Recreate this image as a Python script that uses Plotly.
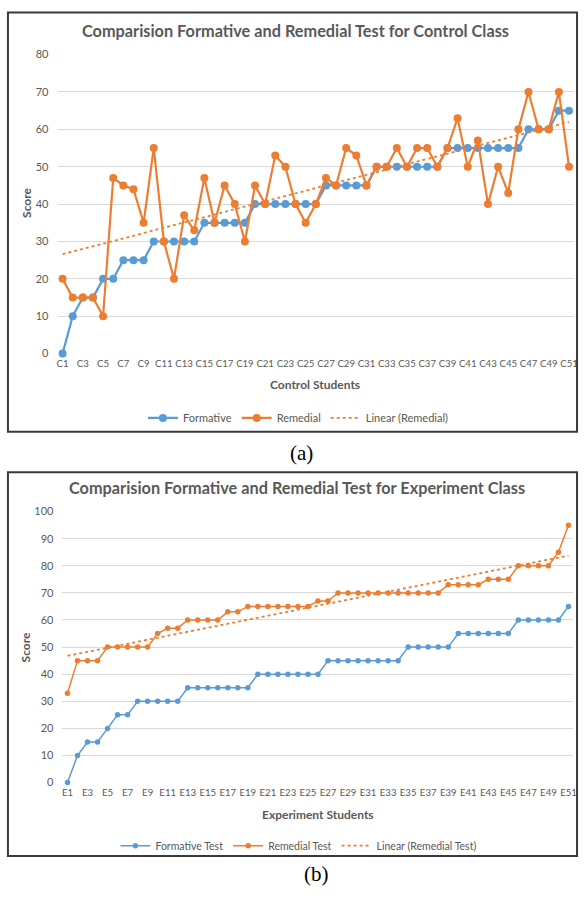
import numpy as np
import plotly.graph_objects as go

W, H = 586, 898

# ---------------- data ----------------
control_students = [f"C{i}" for i in range(1, 52)]
control_formative = [0, 10, 15, 15, 20, 20, 25, 25, 25, 30,
                     30, 30, 30, 30, 35, 35, 35, 35, 35, 40,
                     40, 40, 40, 40, 40, 40, 45, 45, 45, 45,
                     45, 50, 50, 50, 50, 50, 50, 50, 55, 55,
                     55, 55, 55, 55, 55, 55, 60, 60, 60, 65, 65]
control_remedial = [20, 15, 15, 15, 10, 47, 45, 44, 35, 55,
                    30, 20, 37, 33, 47, 35, 45, 40, 30, 45,
                    40, 53, 50, 40, 35, 40, 47, 45, 55, 53,
                    45, 50, 50, 55, 50, 55, 55, 50, 55, 63,
                    50, 57, 40, 50, 43, 60, 70, 60, 60, 70, 50]

experiment_students = [f"E{i}" for i in range(1, 52)]
experiment_formative = [0, 10, 15, 15, 20, 25, 25, 30, 30, 30,
                        30, 30, 35, 35, 35, 35, 35, 35, 35, 40,
                        40, 40, 40, 40, 40, 40, 45, 45, 45, 45,
                        45, 45, 45, 45, 50, 50, 50, 50, 50, 55,
                        55, 55, 55, 55, 55, 60, 60, 60, 60, 60, 65]
experiment_remedial = [33, 45, 45, 45, 50, 50, 50, 50, 50, 55,
                       57, 57, 60, 60, 60, 60, 63, 63, 65, 65,
                       65, 65, 65, 65, 65, 67, 67, 70, 70, 70,
                       70, 70, 70, 70, 70, 70, 70, 70, 73, 73,
                       73, 73, 75, 75, 75, 80, 80, 80, 80, 85, 95]

control_ticks = control_students[::2]
experiment_ticks = experiment_students[::2]

BLUE = "#5B9BD5"
ORANGE = "#ED7D31"
GRAY = "#595959"
GRID = "#D9D9D9"
FONT = "Lato"


def px(x):
    return x / W


def py(y):
    return 1 - y / H


def trend(vals):
    idx = np.arange(len(vals))
    k, b = np.polyfit(idx, vals, 1)
    return k * idx + b


fig = go.Figure()

# ---- chart (a)
fig.add_trace(go.Scatter(x=control_students, y=control_formative, name="Formative",
                         mode="lines+markers", line=dict(color=BLUE, width=2.2),
                         marker=dict(color=BLUE, size=8), xaxis="x", yaxis="y",
                         legend="legend", cliponaxis=False))
fig.add_trace(go.Scatter(x=control_students, y=control_remedial, name="Remedial",
                         mode="lines+markers", line=dict(color=ORANGE, width=2.2),
                         marker=dict(color=ORANGE, size=8), xaxis="x", yaxis="y",
                         legend="legend", cliponaxis=False))
fig.add_trace(go.Scatter(x=control_students, y=trend(control_remedial), name="Linear (Remedial)",
                         mode="lines", line=dict(color=ORANGE, width=1.8, dash="dot"),
                         xaxis="x", yaxis="y", legend="legend"))

# ---- chart (b)
fig.add_trace(go.Scatter(x=experiment_students, y=experiment_formative, name="Formative Test",
                         mode="lines+markers", line=dict(color=BLUE, width=1.5),
                         marker=dict(color=BLUE, size=5.5), xaxis="x2", yaxis="y2",
                         legend="legend2", cliponaxis=False))
fig.add_trace(go.Scatter(x=experiment_students, y=experiment_remedial, name="Remedial Test",
                         mode="lines+markers", line=dict(color=ORANGE, width=1.5),
                         marker=dict(color=ORANGE, size=5.5), xaxis="x2", yaxis="y2",
                         legend="legend2", cliponaxis=False))
fig.add_trace(go.Scatter(x=experiment_students, y=trend(experiment_remedial),
                         name="Linear (Remedial Test)",
                         mode="lines", line=dict(color=ORANGE, width=1.8, dash="dot"),
                         xaxis="x2", yaxis="y2", legend="legend2"))

tickfont = dict(family=FONT, size=11, color=GRAY)
xtickfont = dict(family=FONT, size=9.6, color=GRAY)

fig.update_layout(
    width=W, height=H, margin=dict(l=0, r=0, t=0, b=0),
    paper_bgcolor="white", plot_bgcolor="white",
    font=dict(family=FONT, color=GRAY),
    xaxis=dict(domain=[px(57), px(578)], anchor="y", type="category",
               range=[-0.5, 50.5], tickmode="array", tickvals=control_ticks,
               ticktext=control_ticks, tickangle=0, showgrid=False, zeroline=False,
               showline=False, ticks="", tickfont=xtickfont, ticklabelstandoff=3),
    yaxis=dict(domain=[py(351.7), py(48.3)], anchor="x", range=[0, 80], dtick=10,
               showgrid=True, gridcolor=GRID, gridwidth=1, zeroline=False,
               showline=False, ticks="", tickfont=tickfont, ticklabelstandoff=8),
    xaxis2=dict(domain=[px(62), px(577.4)], anchor="y2", type="category",
                range=[-0.5, 50.5], tickmode="array", tickvals=experiment_ticks,
                ticktext=experiment_ticks, tickangle=0, showgrid=False, zeroline=False,
                showline=False, ticks="", tickfont=xtickfont, ticklabelstandoff=3),
    yaxis2=dict(domain=[py(787), py(512)], anchor="x2", range=[0, 100], dtick=10,
                showgrid=True, gridcolor=GRID, gridwidth=1, zeroline=False,
                showline=False, ticks="", tickfont=tickfont, ticklabelstandoff=8),
    legend=dict(orientation="h", x=px(300), y=py(417), xanchor="center", yanchor="middle",
                font=dict(family=FONT, size=11, color=GRAY), bgcolor="rgba(0,0,0,0)"),
    legend2=dict(orientation="h", x=px(300), y=py(851), xanchor="center", yanchor="middle",
                 font=dict(family=FONT, size=10.5, color=GRAY), bgcolor="rgba(0,0,0,0)"),
    showlegend=True,
)

# borders
for y0, y1 in [(5.5, 431), (472, 861.5)]:
    fig.add_shape(type="rect", xref="paper", yref="paper",
                  x0=px(7), x1=px(581), y0=py(y1), y1=py(y0),
                  line=dict(color="#3A3A3A", width=2), fillcolor="rgba(0,0,0,0)")

anns = [
    dict(text="<b>Comparision Formative and Remedial Test for Control Class</b>",
         x=px(297), y=py(24), size=16.3),
    dict(text="<b>Comparision Formative and Remedial Test for Experiment Class</b>",
         x=px(298.5), y=py(488), size=16.3),
    dict(text="<b>Control Students</b>", x=px(317), y=py(383), size=12),
    dict(text="<b>Experiment Students</b>", x=px(320), y=py(819), size=12),
]
for a in anns:
    fig.add_annotation(text=a["text"], x=a["x"], y=a["y"], xref="paper", yref="paper",
                       xanchor="center", yanchor="middle", showarrow=False,
                       font=dict(family=FONT, size=a["size"], color=GRAY))

for yy in [199, 650]:
    fig.add_annotation(text="<b>Score</b>", x=px(25), y=py(yy), xref="paper", yref="paper",
                       xanchor="center", yanchor="middle", showarrow=False, textangle=-90,
                       font=dict(family=FONT, size=12, color=GRAY))

for txt, xx, yy in [("(a)", 303, 453), ("(b)", 318, 880)]:
    fig.add_annotation(text=txt, x=px(xx), y=py(yy), xref="paper", yref="paper",
                       xanchor="center", yanchor="middle", showarrow=False,
                       font=dict(family="Liberation Serif", size=21, color="black"))

fig.write_html("out.html", config={"displayModeBar": False},
               post_script="document.body.style.margin='0';document.body.style.overflow='hidden';")
